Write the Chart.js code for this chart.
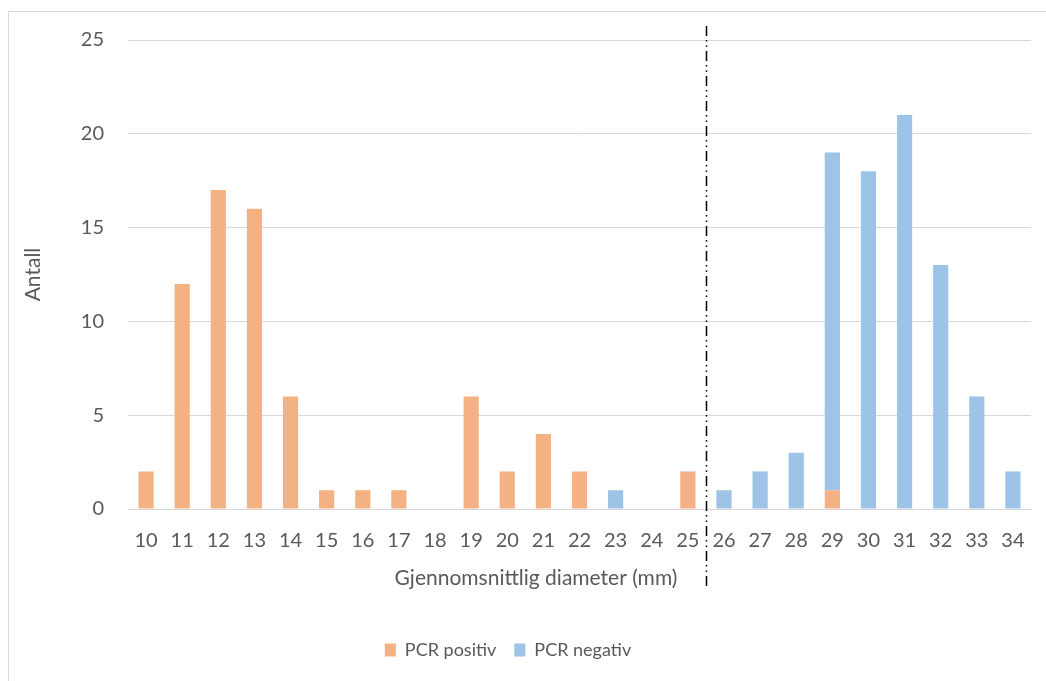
<!DOCTYPE html>
<html>
<head>
<meta charset="utf-8">
<script src="https://cdn.jsdelivr.net/npm/chart.js@4"></script>
<style>
    body { margin: 0; background: #ffffff; overflow: hidden; }
    #frame {
        position: absolute;
        left: 8px;
        top: 11px;
        width: 1100px;
        height: 700px;
        border: 1px solid #d9d9d9;
        background: #ffffff;
    }
    #chart { display: block; }
</style>
</head>
<body>
<div id="frame">
    <canvas id="chart" width="1037" height="669"></canvas>
</div>
<script>
const diameters = ['10', '11', '12', '13', '14', '15', '16', '17', '18', '19', '20', '21',
    '22', '23', '24', '25', '26', '27', '28', '29', '30', '31', '32', '33', '34'];
const pcrPositiv = [2, 12, 17, 16, 6, 1, 1, 1, 0, 6, 2, 4, 2, 0, 0, 2, 0, 0, 0, 1, 0, 0, 0, 0, 0];
const pcrNegativ = [0, 0, 0, 0, 0, 0, 0, 0, 0, 0, 0, 0, 0, 1, 0, 0, 1, 2, 3, 18, 18, 21, 13, 6, 2];
const cutoffBetween = ['25', '26'];

const textColor = '#595959';
const gridColor = '#d9d9d9';
const fontFamily = 'Lato, "Open Sans", sans-serif';

// stiplet skillelinje mellom 25 og 26 mm + x-aksetittel
const cutoffLine = {
    id: 'cutoffLine',
    afterLayout(chart) {
        // flytt legenden litt mot venstre, som i originalen
        chart.legend.left -= 24;
    },
    afterDatasetsDraw(chart) {
        const x = chart.scales.x;
        const area = chart.chartArea;
        const xa = x.getPixelForValue(diameters.indexOf(cutoffBetween[0]));
        const xb = x.getPixelForValue(diameters.indexOf(cutoffBetween[1]));
        const px = Math.round((xa + xb) / 2) + 0.5;
        const ctx = chart.ctx;
        ctx.save();
        ctx.strokeStyle = '#000000';
        ctx.lineWidth = 1.5;
        ctx.setLineDash([10, 4, 1.5, 4, 1.5, 4]);
        ctx.beginPath();
        ctx.moveTo(px, area.top - 14);
        ctx.lineTo(px, area.bottom + 81);
        ctx.stroke();
        ctx.restore();
    },
    afterDraw(chart) {
        const area = chart.chartArea;
        const ctx = chart.ctx;
        ctx.save();
        ctx.fillStyle = textColor;
        ctx.font = '21px ' + fontFamily;
        ctx.textAlign = 'center';
        ctx.textBaseline = 'middle';
        ctx.fillText('Gjennomsnittlig diameter (mm)', area.left + 408, area.bottom + 69);
        ctx.restore();
    }
};

new Chart(document.getElementById('chart').getContext('2d'), {
    type: 'bar',
    data: {
        labels: diameters,
        datasets: [{
            label: 'PCR positiv',
            data: pcrPositiv,
            backgroundColor: '#F4B183',
            borderWidth: 0,
            categoryPercentage: 1,
            barPercentage: 0.42
        }, {
            label: 'PCR negativ',
            data: pcrNegativ,
            backgroundColor: '#9DC3E6',
            borderWidth: 0,
            categoryPercentage: 1,
            barPercentage: 0.42
        }]
    },
    options: {
        responsive: false,
        animation: false,
        layout: {
            padding: { top: 28, right: 15, left: 0, bottom: 12 }
        },
        plugins: {
            tooltip: { enabled: false },
            legend: {
                position: 'bottom',
                labels: {
                    color: textColor,
                    font: { family: fontFamily, size: 18 },
                    boxWidth: 11,
                    boxHeight: 13,
                    padding: 18
                }
            }
        },
        scales: {
            x: {
                stacked: true,
                grid: { display: false, drawTicks: false },
                border: { color: gridColor, width: 1 },
                ticks: {
                    color: textColor,
                    font: { family: fontFamily, size: 20 },
                    padding: 20,
                    maxRotation: 0,
                    autoSkip: false
                },
                afterFit(scale) { scale.height = 114; }
            },
            y: {
                stacked: true,
                min: 0,
                max: 25,
                grid: {
                    color: gridColor,
                    lineWidth: 1,
                    drawTicks: true,
                    tickLength: 20,
                    tickColor: 'rgba(0,0,0,0)'
                },
                border: { display: false },
                ticks: {
                    stepSize: 5,
                    color: textColor,
                    font: { family: fontFamily, size: 20 },
                    padding: 4
                },
                title: {
                    display: true,
                    text: 'Antall',
                    color: textColor,
                    font: { family: fontFamily, size: 21 },
                    padding: { top: 12, bottom: 0 }
                },
                afterFit(scale) { scale.width = 119; }
            }
        }
    },
    plugins: [cutoffLine]
});
</script>
</body>
</html>
